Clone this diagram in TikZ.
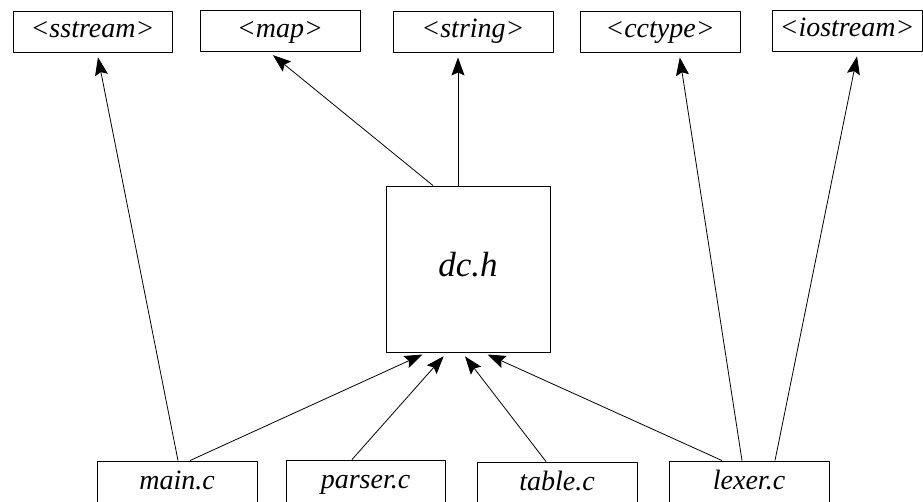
\documentclass[tikz,border=0pt]{standalone}
\usepackage{fontspec}
\setmainfont{Liberation Serif}
\usetikzlibrary{arrows.meta}
\tikzset{
  hdr/.style={draw, line width=0.9pt, minimum height=41pt, inner sep=0pt,
    text height=19pt, text depth=6pt, font=\itshape\fontsize{28}{32}\selectfont},
  srcbox/.style={draw, line width=0.9pt, minimum width=160pt, minimum height=44pt, inner sep=0pt,
    text height=18pt, text depth=6pt, font=\itshape\fontsize{28}{32}\selectfont},
  dep/.style={-{Stealth[length=18pt,width=13pt,inset=3pt]}, line width=0.8pt, shorten >=5pt}
}
\begin{document}
\begin{tikzpicture}[x=1pt, y=-1pt, line join=round]
                \useasboundingbox (0,0) rectangle (923,502);
                \node[hdr, minimum width=159pt] (sstream) at (92.5,31.5) {<sstream>};
                \node[hdr, minimum width=160pt] (map) at (280,31) {<map>};
                \node[hdr, minimum width=160pt] (string) at (473,31.5) {<string>};
                \node[hdr, minimum width=160pt] (cctype) at (660,31.5) {<cctype>};
                \node[hdr, minimum width=150pt] (iostream) at (847,30.5) {<iostream>};
                \node[draw, line width=0.9pt, minimum width=164pt, minimum height=166pt,
                  text height=24pt, text depth=8pt,
                  font=\itshape\fontsize{35}{40}\selectfont] (dch) at (468,269) {dc.h};
                \node[srcbox, minimum width=160pt] (main) at (177,483) {main.c};
                \node[srcbox, minimum width=159pt] (parser) at (365.5,482) {parser.c};
                \node[srcbox, minimum width=160pt] (table) at (557,484) {table.c};
                \node[srcbox, minimum width=160pt] (lexer) at (749,483) {lexer.c};
                \draw[dep] ([xshift=1pt]main.north) -- ([xshift=4.5pt]sstream.south);
                \draw[dep] ([xshift=13pt]main.north) -- ([xshift=-41pt]dch.south);
                \draw[dep] ([xshift=-13.5pt]parser.north) -- ([xshift=-21pt]dch.south);
                \draw[dep] ([xshift=-11pt]table.north) -- ([xshift=-6pt]dch.south);
                \draw[dep] ([xshift=-27pt]lexer.north) -- ([xshift=15pt]dch.south);
                \draw[dep] ([xshift=-7pt]lexer.north) -- ([xshift=19pt]cctype.south);
                \draw[dep] ([xshift=26pt]lexer.north) -- ([xshift=11pt]iostream.south);
                \draw[dep] ([xshift=-35pt]dch.north) -- ([xshift=-11pt]map.south);
                \draw[dep] ([xshift=-10pt]dch.north) -- ([xshift=-15pt]string.south);
            \end{tikzpicture}
\end{document}
